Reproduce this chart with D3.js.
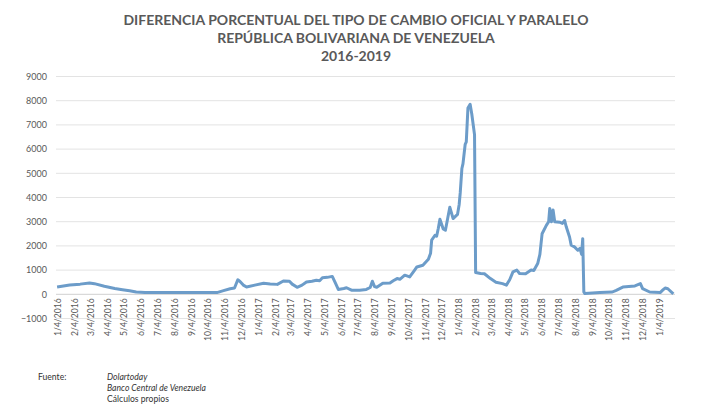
<!DOCTYPE html>
<html><head><meta charset="utf-8">
<script src="https://cdn.jsdelivr.net/npm/d3@7"></script>
<style>body{margin:0;background:#fff}svg{display:block}</style>
</head><body><svg id="c" width="720" height="405"></svg>
<script>
const titleLines = ["DIFERENCIA PORCENTUAL DEL TIPO DE CAMBIO OFICIAL Y PARALELO","REPÚBLICA BOLIVARIANA DE VENEZUELA","2016-2019"];
const yTicks = [-1000,0,1000,2000,3000,4000,5000,6000,7000,8000,9000];
const dates = ["2016-01-04","2016-01-27","2016-02-15","2016-03-03","2016-03-12","2016-03-30","2016-04-18","2016-05-02","2016-05-15","2016-05-27","2016-06-12","2016-08-01","2016-10-21","2016-11-02","2016-11-14","2016-11-22","2016-11-28","2016-12-02","2016-12-08","2016-12-14","2016-12-29","2017-01-14","2017-01-26","2017-02-08","2017-02-19","2017-03-02","2017-03-07","2017-03-16","2017-03-25","2017-04-02","2017-04-12","2017-04-20","2017-04-26","2017-05-01","2017-05-10","2017-05-19","2017-05-25","2017-05-30","2017-06-09","2017-06-14","2017-06-23","2017-07-08","2017-07-20","2017-07-27","2017-07-31","2017-08-04","2017-08-08","2017-08-19","2017-09-01","2017-09-07","2017-09-14","2017-09-19","2017-09-28","2017-10-07","2017-10-16","2017-10-20","2017-10-31","2017-11-10","2017-11-14","2017-11-16","2017-11-22","2017-11-25","2017-11-28","2017-12-01","2017-12-07","2017-12-11","2017-12-19","2017-12-25","2018-01-02","2018-01-05","2018-01-07","2018-01-10","2018-01-12","2018-01-16","2018-01-18","2018-01-21","2018-01-25","2018-01-28","2018-02-02","2018-02-04","2018-02-13","2018-02-20","2018-03-03","2018-03-13","2018-03-25","2018-04-01","2018-04-07","2018-04-13","2018-04-20","2018-04-25","2018-05-06","2018-05-16","2018-05-21","2018-05-28","2018-06-01","2018-06-05","2018-06-13","2018-06-17","2018-06-19","2018-06-22","2018-06-25","2018-06-28","2018-07-07","2018-07-12","2018-07-16","2018-07-19","2018-07-25","2018-07-28","2018-08-03","2018-08-09","2018-08-13","2018-08-16","2018-08-18","2018-08-20","2018-08-22","2018-09-18","2018-10-11","2018-10-18","2018-10-30","2018-11-21","2018-12-01","2018-12-05","2018-12-18","2019-01-06","2019-01-11","2019-01-15","2019-01-20","2019-01-30"];
const values = [300,380,420,470,440,330,240,190,150,95,70,70,70,150,230,260,600,530,380,300,380,460,430,410,550,540,420,290,380,510,540,580,560,680,700,740,450,200,240,270,170,170,200,280,540,320,290,460,470,560,650,620,790,720,1000,1130,1200,1450,1700,2240,2440,2400,2720,3100,2700,2650,3600,3130,3300,3700,4200,5200,5400,6200,6300,7700,7850,7450,6600,900,860,850,650,500,440,380,600,925,1000,860,850,1000,980,1270,1650,2500,2860,3000,3550,3000,3480,3000,2980,2930,3050,2790,2370,2030,1960,1820,1900,1650,2300,100,30,70,95,165,300,345,440,235,95,70,180,260,230,20];
const footLabel = "Fuente:";
const footLines = ["Dolartoday","Banco Central de Venezuela","Cálculos propios"];

const parse = d3.timeParse("%Y-%m-%d");
const data = dates.map((d,i)=>({date:parse(d), value:values[i]}));
const svg = d3.select("#c");
const x = d3.scaleTime().domain([parse("2016-01-02"), parse("2019-02-02")]).range([56,675]);
const y = d3.scaleLinear().domain([-1000,9000]).range([318.5,76.5]);

// title
svg.append("g").selectAll("text").data(titleLines).join("text")
  .attr("x",356).attr("y",(d,i)=>25+i*18)
  .attr("text-anchor","middle").attr("font-family","Lato, 'Open Sans', sans-serif")
  .attr("font-weight",700).attr("font-size",14).attr("fill","#595959").text(d=>d);

// grid
svg.append("g").selectAll("line").data(yTicks).join("line")
  .attr("x1",56).attr("x2",675).attr("y1",d=>y(d)).attr("y2",d=>y(d))
  .attr("stroke",d=>d===0?"#d0d0d0":"#e3e3e3").attr("stroke-width",1);

// y axis labels
const ya = svg.append("g").attr("transform","translate(47,0)")
  .call(d3.axisLeft(y).tickValues(yTicks).tickSize(0).tickPadding(0).tickFormat(d3.format("d")));
ya.select(".domain").remove();
ya.selectAll("text").attr("font-family","Lato, sans-serif").attr("font-size",9).attr("fill","#595959");

// x axis labels
const xTicks = d3.timeMonth.range(parse("2016-01-01"), parse("2019-01-02")).map(d=>new Date(d.getFullYear(), d.getMonth(), 4));
const fmt = d => (d.getMonth()+1)+"/"+d.getDate()+"/"+d.getFullYear();
const xa = svg.append("g").attr("transform","translate(0,"+y(0)+")")
  .call(d3.axisBottom(x).tickValues(xTicks).tickSize(0).tickFormat(fmt));
xa.select(".domain").remove();
xa.selectAll("text").attr("font-family","Lato, sans-serif").attr("font-size",8.6).attr("fill","#595959")
  .attr("text-anchor","end").attr("transform","rotate(-90)").attr("x",-4).attr("y",0).attr("dy","0.35em");

// line
svg.append("path").datum(data)
  .attr("fill","none").attr("stroke","#6c9cc9").attr("stroke-width",3).attr("stroke-linejoin","round")
  .attr("d", d3.line().x(d=>x(d.date)).y(d=>y(d.value)));

// footer
const ff = "Lato, sans-serif";
svg.append("text").attr("x",38).attr("y",380).attr("font-family",ff).attr("font-size",8.6).attr("fill","#333").text(footLabel);
svg.append("g").selectAll("text").data(footLines).join("text")
  .attr("x",107).attr("y",(d,i)=>380+i*11).attr("font-family",ff).attr("font-size",8.6).attr("fill","#333")
  .attr("font-style",(d,i)=>i<2?"italic":"normal").text(d=>d);
</script></body></html>
